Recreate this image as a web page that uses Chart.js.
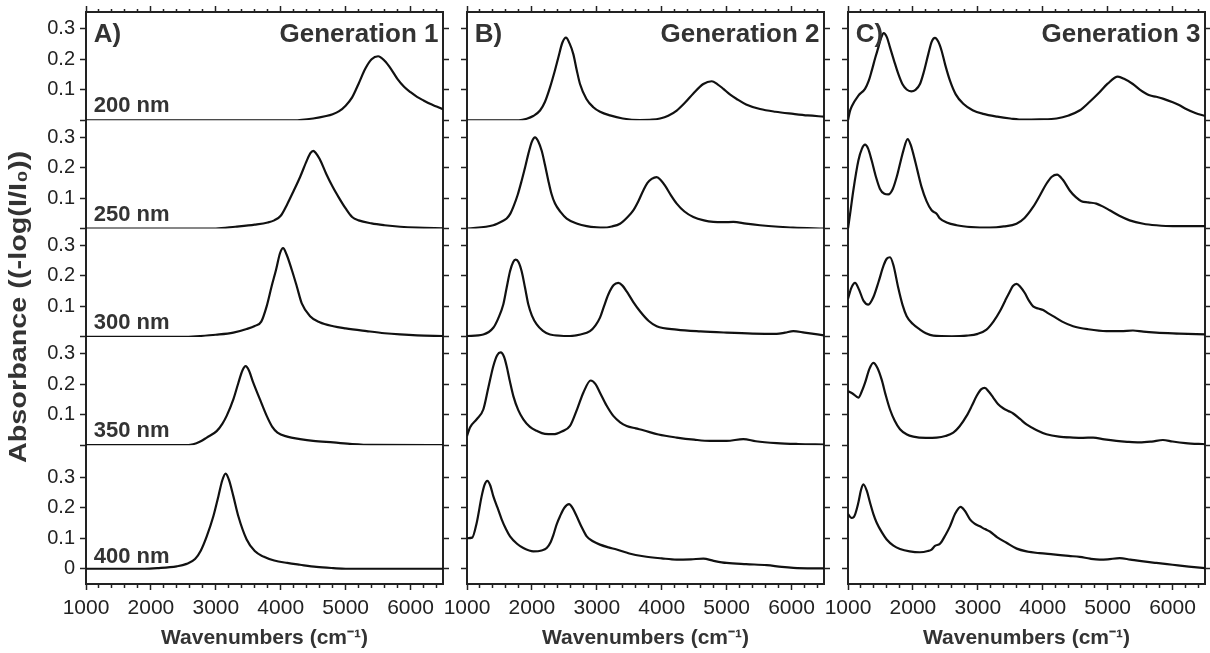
<!DOCTYPE html>
<html>
<head>
<meta charset="utf-8">
<title>Absorbance spectra</title>
<script src="https://cdn.jsdelivr.net/npm/chart.js@4.4.0/dist/chart.umd.min.js"></script>
<style>
  html, body { margin: 0; padding: 0; background: #fff; }
  #wrap { position: relative; width: 1210px; height: 653px; overflow: hidden; }
  canvas { position: absolute; top: 0; }
  #cA { left: 0; }
  #cB { left: 427px; }
  #cC { left: 808px; }
</style>
</head>
<body>
<div id="wrap">
  <canvas id="cA" width="460" height="653"></canvas>
  <canvas id="cB" width="414" height="653"></canvas>
  <canvas id="cC" width="402" height="653"></canvas>
</div>
<script>
// Etiquetas y ticks
const wavelengths = ['200 nm', '250 nm', '300 nm', '350 nm', '400 nm'];
const panelLetters = ['A)', 'B)', 'C)'];
const panelTitles = ['Generation 1', 'Generation 2', 'Generation 3'];
const xTickValues = [1000, 1200, 1400, 1600, 1800, 2000, 2200, 2400, 2600, 2800, 3000, 3200, 3400, 3600, 3800,
  4000, 4200, 4400, 4600, 4800, 5000, 5200, 5400, 5600, 5800, 6000, 6200, 6400];
const yTickValues = [0, 0.1, 0.2, 0.3];

// Generation 1 : [wavenumber, absorbance]
const gen1_200 = [[1000,0],[4200,0],[4500,0.006],[4700,0.014],[4800,0.02],[4900,0.03],[5000,0.048],[5100,0.075],[5200,0.12],[5300,0.168],[5400,0.2],[5500,0.21],[5600,0.195],[5700,0.168],[5800,0.135],[5900,0.11],[6000,0.092],[6100,0.077],[6200,0.065],[6300,0.054],[6400,0.045],[6500,0.036]];
const gen1_250 = [[1000,0],[3000,0],[3300,0.006],[3600,0.013],[3800,0.02],[3900,0.027],[4000,0.042],[4100,0.08],[4200,0.124],[4300,0.17],[4400,0.222],[4460,0.248],[4500,0.255],[4540,0.248],[4600,0.228],[4700,0.18],[4800,0.137],[4900,0.1],[5000,0.066],[5100,0.038],[5200,0.027],[5400,0.017],[5600,0.011],[5840,0.006],[6100,0.003],[6500,0.001]];
const gen1_300 = [[1000,0],[2500,0],[2757,0.003],[3000,0.007],[3270,0.014],[3475,0.026],[3600,0.036],[3700,0.05],[3783,0.1],[3860,0.166],[3928,0.22],[3990,0.275],[4036,0.291],[4090,0.27],[4170,0.22],[4247,0.166],[4324,0.11],[4452,0.068],[4600,0.048],[4810,0.035],[5000,0.028],[5323,0.019],[5600,0.012],[5838,0.008],[6100,0.005],[6500,0.003]];
const gen1_350 = [[1000,0],[2500,0],[2650,0.003],[2760,0.012],[2860,0.025],[3013,0.046],[3100,0.07],[3167,0.096],[3270,0.15],[3347,0.204],[3410,0.245],[3460,0.259],[3510,0.245],[3578,0.204],[3680,0.15],[3784,0.096],[3870,0.06],[3950,0.041],[4100,0.028],[4297,0.02],[4500,0.014],[4810,0.009],[5100,0.004],[5400,0.001],[6500,0]];
const gen1_400 = [[1000,0],[1900,0],[2100,0.002],[2397,0.008],[2550,0.016],[2680,0.032],[2770,0.06],[2860,0.106],[2962,0.172],[3040,0.238],[3100,0.29],[3152,0.312],[3205,0.29],[3270,0.238],[3347,0.172],[3475,0.096],[3600,0.058],[3732,0.04],[3900,0.027],[4100,0.019],[4297,0.013],[4550,0.006],[4810,0.002],[5000,0],[6500,0]];

// Generation 2
const gen2_200 = [[1000,0],[1800,0],[1920,0.005],[2020,0.014],[2125,0.032],[2200,0.06],[2279,0.108],[2350,0.16],[2407,0.206],[2470,0.255],[2525,0.271],[2580,0.252],[2638,0.217],[2690,0.165],[2741,0.119],[2840,0.07],[2946,0.043],[3050,0.028],[3203,0.016],[3400,0.006],[3665,0.001],[3850,0.002],[3974,0.006],[4100,0.015],[4231,0.032],[4360,0.058],[4487,0.088],[4641,0.119],[4770,0.128],[4860,0.118],[4950,0.103],[5050,0.085],[5155,0.07],[5300,0.052],[5514,0.037],[5750,0.028],[6028,0.021],[6250,0.016],[6500,0.012]];
const gen2_250 = [[1000,0],[1405,0.011],[1550,0.025],[1611,0.033],[1670,0.05],[1714,0.071],[1780,0.11],[1842,0.157],[1900,0.205],[1945,0.245],[2000,0.285],[2048,0.299],[2100,0.285],[2151,0.255],[2200,0.21],[2253,0.157],[2300,0.115],[2356,0.082],[2440,0.055],[2536,0.033],[2700,0.016],[2844,0.008],[3000,0.004],[3100,0.003],[3230,0.007],[3357,0.016],[3460,0.035],[3562,0.06],[3640,0.09],[3716,0.125],[3780,0.15],[3845,0.163],[3922,0.169],[3990,0.158],[4051,0.141],[4140,0.11],[4231,0.082],[4350,0.056],[4487,0.038],[4650,0.027],[4795,0.022],[4950,0.021],[5103,0.022],[5300,0.016],[5514,0.011],[5800,0.006],[6023,0.003],[6500,0]];
const gen2_300 = [[1000,0.003],[1251,0.008],[1405,0.03],[1480,0.06],[1559,0.106],[1610,0.16],[1663,0.215],[1710,0.245],[1750,0.253],[1795,0.245],[1842,0.215],[1895,0.16],[1945,0.106],[2000,0.07],[2074,0.041],[2170,0.02],[2279,0.008],[2587,0.003],[2750,0.008],[2895,0.019],[2980,0.038],[3049,0.063],[3110,0.1],[3177,0.139],[3260,0.17],[3331,0.177],[3395,0.168],[3460,0.149],[3560,0.115],[3665,0.084],[3800,0.052],[3922,0.035],[4231,0.024],[4600,0.018],[5000,0.014],[5400,0.011],[5771,0.01],[5900,0.014],[6028,0.019],[6200,0.014],[6500,0.005]];
const gen2_350 = [[1000,0.03],[1046,0.058],[1150,0.085],[1251,0.117],[1330,0.19],[1405,0.259],[1465,0.295],[1519,0.304],[1570,0.29],[1611,0.259],[1660,0.21],[1714,0.161],[1790,0.115],[1868,0.085],[1970,0.06],[2074,0.047],[2200,0.037],[2330,0.036],[2460,0.045],[2587,0.063],[2700,0.12],[2792,0.172],[2906,0.212],[2980,0.2],[3049,0.172],[3150,0.13],[3254,0.096],[3360,0.075],[3460,0.063],[3600,0.055],[3716,0.049],[3950,0.035],[4231,0.025],[4500,0.018],[4744,0.014],[5000,0.014],[5257,0.02],[5450,0.013],[5771,0.007],[6100,0.004],[6500,0.002]];
const gen2_400 = [[1000,0.1],[1080,0.102],[1149,0.15],[1226,0.238],[1270,0.275],[1313,0.288],[1360,0.272],[1405,0.238],[1470,0.2],[1534,0.162],[1600,0.13],[1663,0.106],[1770,0.082],[1868,0.068],[2022,0.057],[2150,0.06],[2228,0.068],[2290,0.088],[2330,0.11],[2380,0.145],[2433,0.172],[2500,0.2],[2572,0.212],[2630,0.198],[2690,0.172],[2770,0.135],[2844,0.106],[2940,0.09],[3049,0.079],[3180,0.07],[3306,0.063],[3500,0.05],[3716,0.041],[4000,0.034],[4231,0.03],[4450,0.031],[4641,0.033],[4800,0.026],[5000,0.019],[5300,0.015],[5617,0.012],[5850,0.006],[6028,0.003],[6500,0.001]];

// Generation 3
const gen3_200 = [[1000,0],[1030,0.03],[1057,0.045],[1160,0.081],[1262,0.103],[1320,0.13],[1365,0.162],[1420,0.205],[1468,0.239],[1510,0.27],[1550,0.286],[1600,0.272],[1647,0.239],[1710,0.195],[1775,0.152],[1840,0.118],[1904,0.101],[1975,0.095],[2040,0.1],[2109,0.119],[2170,0.16],[2237,0.217],[2290,0.258],[2340,0.27],[2390,0.258],[2442,0.228],[2500,0.18],[2571,0.13],[2660,0.085],[2776,0.054],[2920,0.033],[3084,0.021],[3300,0.012],[3500,0.006],[3700,0.002],[3950,0.003],[4213,0.006],[4400,0.016],[4567,0.032],[4720,0.06],[4875,0.092],[5000,0.12],[5157,0.143],[5260,0.135],[5388,0.119],[5500,0.1],[5645,0.082],[5750,0.077],[5850,0.071],[6004,0.059],[6100,0.05],[6209,0.037],[6350,0.024],[6500,0.014]];
const gen3_250 = [[1000,0],[1040,0.06],[1082,0.125],[1160,0.223],[1215,0.262],[1262,0.275],[1310,0.262],[1365,0.223],[1430,0.17],[1493,0.13],[1560,0.114],[1621,0.112],[1690,0.13],[1750,0.169],[1810,0.22],[1852,0.255],[1919,0.293],[1965,0.275],[2006,0.245],[2070,0.19],[2134,0.136],[2210,0.09],[2288,0.06],[2365,0.049],[2417,0.033],[2520,0.02],[2673,0.011],[2900,0.005],[3186,0.003],[3400,0.007],[3596,0.016],[3720,0.035],[3852,0.071],[3960,0.11],[4057,0.147],[4140,0.17],[4220,0.177],[4310,0.16],[4416,0.125],[4510,0.103],[4596,0.09],[4700,0.086],[4826,0.082],[4930,0.072],[5031,0.06],[5180,0.042],[5339,0.027],[5550,0.016],[5750,0.011],[6004,0.008],[6500,0.008]];
const gen3_300 = [[1000,0.125],[1050,0.16],[1108,0.177],[1170,0.155],[1240,0.118],[1313,0.106],[1390,0.13],[1470,0.18],[1550,0.235],[1600,0.257],[1647,0.261],[1700,0.235],[1775,0.16],[1840,0.105],[1904,0.068],[2000,0.042],[2109,0.024],[2200,0.012],[2314,0.004],[2600,0.002],[2827,0.004],[3000,0.01],[3134,0.024],[3240,0.05],[3340,0.084],[3420,0.118],[3494,0.149],[3540,0.167],[3596,0.174],[3660,0.163],[3724,0.144],[3790,0.118],[3852,0.1],[3930,0.093],[4006,0.088],[4080,0.078],[4160,0.068],[4300,0.05],[4468,0.035],[4700,0.025],[4980,0.019],[5200,0.019],[5390,0.021],[5550,0.017],[5750,0.014],[6100,0.011],[6500,0.008]];
const gen3_350 = [[1000,0.177],[1080,0.168],[1160,0.156],[1210,0.175],[1262,0.204],[1330,0.25],[1390,0.27],[1450,0.255],[1519,0.215],[1580,0.165],[1647,0.117],[1720,0.08],[1801,0.052],[1900,0.036],[2006,0.028],[2200,0.024],[2365,0.025],[2500,0.03],[2622,0.041],[2720,0.062],[2827,0.096],[2910,0.13],[2981,0.161],[3050,0.183],[3108,0.188],[3170,0.175],[3237,0.156],[3310,0.135],[3391,0.121],[3470,0.112],[3545,0.104],[3650,0.086],[3750,0.068],[3900,0.05],[4057,0.036],[4250,0.028],[4468,0.025],[4620,0.024],[4776,0.025],[4950,0.019],[5134,0.014],[5300,0.011],[5493,0.009],[5680,0.012],[5852,0.017],[6000,0.012],[6200,0.007],[6500,0.003]];
const gen3_400 = [[1000,0.18],[1050,0.167],[1090,0.17],[1160,0.217],[1200,0.258],[1236,0.277],[1290,0.255],[1339,0.217],[1390,0.18],[1442,0.151],[1520,0.12],[1596,0.096],[1700,0.076],[1801,0.065],[1950,0.057],[2109,0.054],[2230,0.058],[2288,0.063],[2340,0.075],[2417,0.082],[2500,0.11],[2571,0.139],[2650,0.18],[2735,0.203],[2800,0.19],[2879,0.162],[2950,0.148],[3032,0.139],[3110,0.13],[3186,0.122],[3300,0.103],[3442,0.085],[3600,0.066],[3750,0.057],[3950,0.051],[4160,0.047],[4400,0.042],[4570,0.039],[4730,0.033],[4878,0.03],[5000,0.031],[5186,0.035],[5350,0.03],[5550,0.024],[5750,0.019],[6000,0.013],[6250,0.007],[6500,0.002]];

const panelSeries = [
  [gen1_200, gen1_250, gen1_300, gen1_350, gen1_400],
  [gen2_200, gen2_250, gen2_300, gen2_350, gen2_400],
  [gen3_200, gen3_250, gen3_300, gen3_350, gen3_400]
];

Chart.defaults.font.family = '"Liberation Sans", Arial, Helvetica, sans-serif';
Chart.defaults.color = '#222';

const ink = '#222';
const isMinor = c => c.tick && c.tick.value % 1000 !== 0;

// Textos dentro de cada panel
const panelText = {
  id: 'panelText',
  afterDatasetsDraw(chart, args, opts) {
    const ctx = chart.ctx;
    const x = chart.scales.x;
    const top = chart.scales['y0'];
    ctx.save();
    ctx.fillStyle = '#333';
    ctx.textBaseline = 'alphabetic';
    ctx.font = 'bold 26px "Liberation Sans", Arial, sans-serif';
    ctx.textAlign = 'left';
    ctx.fillText(opts.letter, x.getPixelForValue(1120), top.getPixelForValue(0.258));
    ctx.textAlign = 'right';
    ctx.fillText(opts.title, x.getPixelForValue(6430), top.getPixelForValue(0.258));
    if (opts.showWavelengths) {
      ctx.font = 'bold 22px "Liberation Sans", Arial, sans-serif';
      ctx.textAlign = 'left';
      wavelengths.forEach((w, i) => {
        const s = chart.scales['y' + i];
        ctx.fillText(w, x.getPixelForValue(1120), s.getPixelForValue(i === 4 ? 0.02 : 0.026));
      });
      // titulo del eje y
      ctx.translate(19, 307);
      ctx.rotate(-Math.PI / 2);
      ctx.scale(1.2, 1);
      ctx.textAlign = 'center';
      ctx.textBaseline = 'middle';
      ctx.font = 'bold 24px "Liberation Sans", Arial, sans-serif';
      ctx.fillText('Absorbance ((-log(I/I\u2080))', 0, 0);
    }
    ctx.restore();
  }
};

function yAxis(i, side, width, showLabels) {
  const last = i === wavelengths.length - 1;
  return {
    type: 'linear',
    position: side,
    stack: side,
    stackWeight: last ? 0.455 : 0.355,
    min: last ? -0.05 : 0,
    max: last ? 0.405 : 0.355,
    afterBuildTicks: s => { s.ticks = yTickValues.map(v => ({ value: v })); },
    afterFit: s => { s.width = width; s.paddingTop = 0; s.paddingBottom = 0; },
    ticks: {
      display: showLabels,
      autoSkip: false,
      padding: 5,
      color: ink,
      font: { size: 20 },
      callback: v => (v === 0 && !last) ? '' : String(v)
    },
    grid: { drawOnChartArea: false, tickLength: 6, tickWidth: 1.5, tickColor: ink },
    border: { color: ink, width: 2 }
  };
}

function makePanel(canvasId, p, leftW, rightW) {
  const scales = {
    x: {
      type: 'linear', position: 'bottom', min: 1000, max: 6500,
      afterBuildTicks: s => { s.ticks = xTickValues.map(v => ({ value: v })); },
      afterFit: s => { s.height = 69; },
      ticks: { autoSkip: false, maxRotation: 0, padding: 6, color: ink, font: { size: 21 },
        callback: v => v % 1000 === 0 ? String(v) : '' },
      grid: { drawOnChartArea: false, tickLength: 6, tickWidth: 1.5, tickColor: ink,
        tickBorderDash: c => isMinor(c) ? [3, 20] : [] },
      border: { color: ink, width: 2 },
      title: { display: true, text: 'Wavenumbers (cm\u207B\u00B9)', color: '#333',
        font: { size: 21, weight: 'bold' }, padding: { top: 0, bottom: 2 } }
    },
    xt: {
      type: 'linear', position: 'top', min: 1000, max: 6500,
      afterBuildTicks: s => { s.ticks = xTickValues.map(v => ({ value: v })); },
      afterFit: s => { s.height = 12; },
      ticks: { display: false },
      grid: { drawOnChartArea: false, tickLength: 6, tickWidth: 1.5, tickColor: ink,
        tickBorderDash: c => isMinor(c) ? [0, 3, 3, 20] : [] },
      border: { color: ink, width: 2 }
    }
  };
  // eje izquierdo: el ultimo definido queda arriba
  for (let i = wavelengths.length - 1; i >= 0; i--) {
    scales['y' + i] = yAxis(i, 'left', leftW, p === 0);
  }
  for (let i = 0; i < wavelengths.length; i++) {
    scales['r' + i] = yAxis(i, 'right', rightW, false);
  }

  const datasets = panelSeries[p].map((data, i) => ({
    label: panelTitles[p] + ' ' + wavelengths[i],
    data: data,
    xAxisID: 'x',
    yAxisID: 'y' + i,
    borderColor: '#111',
    borderWidth: 2.2,
    pointRadius: 0,
    cubicInterpolationMode: 'monotone',
    fill: false
  }));

  return new Chart(document.getElementById(canvasId), {
    type: 'line',
    data: { datasets },
    options: {
      responsive: false,
      animation: false,
      events: [],
      layout: { padding: 0 },
      scales,
      plugins: {
        legend: { display: false },
        tooltip: { enabled: false },
        panelText: { letter: panelLetters[p], title: panelTitles[p], showWavelengths: p === 0 }
      }
    },
    plugins: [panelText]
  });
}

makePanel('cA', 0, 86, 17);
makePanel('cB', 1, 40, 17);
makePanel('cC', 2, 40, 5);
</script>
</body>
</html>
